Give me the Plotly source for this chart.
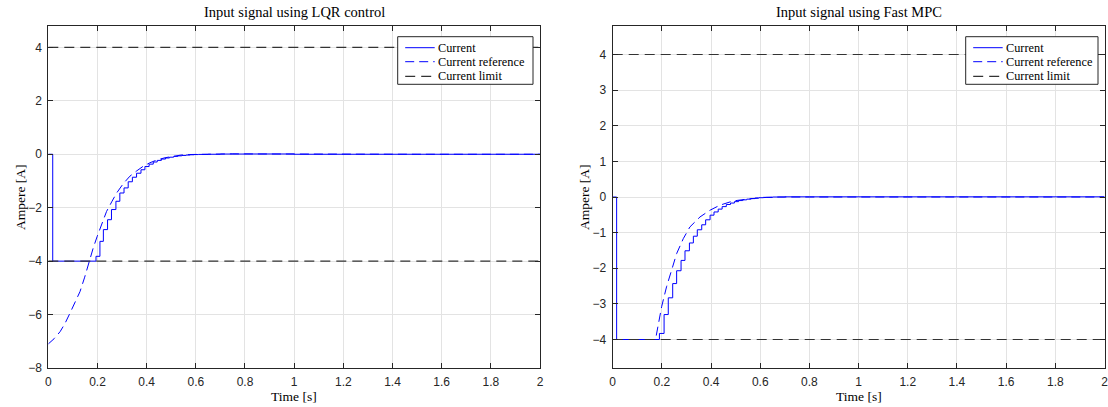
import plotly.graph_objects as go

# ---- LQR control: unsaturated controller output (reference) ----
lqr_ref_t = [0.0, 0.024, 0.048, 0.068, 0.088, 0.108, 0.129, 0.148, 0.167, 0.183,
             0.199, 0.218, 0.237, 0.258, 0.278, 0.305, 0.332, 0.36, 0.386, 0.413,
             0.44, 0.475, 0.508, 0.54, 0.576, 0.62, 0.68, 0.75, 0.85, 1.0, 1.2, 1.5, 2.0]
lqr_ref_v = [-7.1, -6.9, -6.64, -6.33, -5.95, -5.57, -5.14, -4.6, -3.97, -3.5,
             -3.07, -2.6, -2.14, -1.78, -1.45, -1.10, -0.82, -0.62, -0.45, -0.32,
             -0.22, -0.13, -0.07, -0.03, -0.01, 0.0, 0.01, 0.015, 0.01, 0.005, 0.0, 0.0, 0.0]

# ---- LQR control: applied current (sampled, saturated) ----
lqr_cur_t = [0.0, 0.018, 0.194, 0.210, 0.224, 0.241, 0.257, 0.275, 0.291, 0.308,
             0.325, 0.342, 0.359, 0.377, 0.393, 0.41, 0.427, 0.443, 0.46, 0.477,
             0.493, 0.51, 0.527, 0.543, 0.56, 0.577, 0.593, 0.61, 0.65, 0.7, 0.8, 1.0, 2.0]
lqr_cur_v = [0.0, -4.0, -3.82, -3.26, -2.82, -2.45, -2.07, -1.76, -1.45, -1.26,
             -1.03, -0.86, -0.71, -0.58, -0.46, -0.37, -0.29, -0.23, -0.18, -0.14,
             -0.11, -0.08, -0.06, -0.045, -0.03, -0.02, -0.012, -0.006, 0.0, 0.008, 0.01, 0.0, 0.0]

# ---- Fast MPC: controller output (reference) ----
mpc_ref_t = [0.017, 0.17, 0.176, 0.188, 0.199, 0.219, 0.240, 0.260, 0.287, 0.314,
             0.355, 0.396, 0.436, 0.49, 0.558, 0.626, 0.68, 0.8, 1.0, 2.0]
mpc_ref_v = [-4.0, -4.0, -3.93, -3.45, -3.08, -2.52, -2.01, -1.59, -1.17, -0.84,
             -0.56, -0.37, -0.23, -0.11, -0.05, -0.01, 0.0, 0.005, 0.0, 0.0]

# ---- Fast MPC: applied current ----
mpc_cur_t = [0.0, 0.016, 0.190, 0.209, 0.226, 0.244, 0.260, 0.278, 0.294, 0.312,
             0.328, 0.344, 0.362, 0.378, 0.396, 0.412, 0.429, 0.445, 0.462, 0.479,
             0.495, 0.512, 0.529, 0.545, 0.562, 0.579, 0.595, 0.612, 0.65, 0.7, 0.8, 2.0]
mpc_cur_v = [0.0, -4.0, -3.83, -3.30, -2.83, -2.43, -2.07, -1.78, -1.51, -1.29,
             -1.10, -0.92, -0.78, -0.64, -0.51, -0.42, -0.34, -0.27, -0.21, -0.17,
             -0.13, -0.10, -0.08, -0.06, -0.045, -0.03, -0.02, -0.01, 0.0, 0.005, 0.005, 0.0]

limit_t = [0.0, 2.0]
limit_hi = [4.0, 4.0]
limit_lo = [-4.0, -4.0]

titles = ["Input signal using LQR control", "Input signal using Fast MPC"]
legend_labels = ["Current", "Current reference", "Current limit"]
x_ticks = [0, 0.2, 0.4, 0.6, 0.8, 1, 1.2, 1.4, 1.6, 1.8, 2]
x_ticklabels = ["0", "0.2", "0.4", "0.6", "0.8", "1", "1.2", "1.4", "1.6", "1.8", "2"]
lqr_yticks = [-8, -6, -4, -2, 0, 2, 4]
mpc_yticks = [-4, -3, -2, -1, 0, 1, 2, 3, 4]

W, H = 1108, 407
BLUE = "#0000ff"
BLACK = "#262626"
LIMIT = "#333333"
SERIF = "Liberation Serif"
SANS = "Liberation Sans"

CUR_LINE = dict(color=BLUE, width=1)
REF_LINE = dict(color=BLUE, width=1, dash="9px,5px")
LIM_LINE = dict(color=LIMIT, width=1.2, dash="10px,6px")

fig = go.Figure()


def add_panel(xa, ya, t_cur, v_cur, t_ref, v_ref):
    fig.add_trace(go.Scatter(x=t_cur, y=v_cur, mode="lines", line_shape="hv",
                             line=CUR_LINE, name="Current", showlegend=False,
                             xaxis=xa, yaxis=ya))
    fig.add_trace(go.Scatter(x=t_ref, y=v_ref, mode="lines", line=REF_LINE,
                             name="Current reference", showlegend=False,
                             xaxis=xa, yaxis=ya))
    for lim in (limit_hi, limit_lo):
        fig.add_trace(go.Scatter(x=limit_t, y=lim, mode="lines", line=LIM_LINE,
                                 name="Current limit", showlegend=False,
                                 xaxis=xa, yaxis=ya))


add_panel("x", "y", lqr_cur_t, lqr_cur_v, lqr_ref_t, lqr_ref_v)
add_panel("x2", "y2", mpc_cur_t, mpc_cur_v, mpc_ref_t, mpc_ref_v)

# axis boxes in pixels
left_px = (48.3, 540.0)
right_px = (612.7, 1104.5)
top_px, bot_px = 26.0, 368.0
ydom = [(H - bot_px) / H, (H - top_px) / H]

axis_common = dict(showline=True, linecolor=BLACK, linewidth=1, mirror="allticks",
                   ticks="inside", ticklen=5, tickcolor=BLACK, automargin=False,
                   showgrid=True, gridcolor="#e3e3e3", gridwidth=1, zeroline=False,
                   ticklabelstandoff=3, ticklabeloverflow="allow",
                   tickfont=dict(family=SANS, size=12, color=BLACK))

fig.update_layout(
    width=W, height=H,
    margin=dict(l=0, r=0, t=0, b=0, autoexpand=False),
    paper_bgcolor="white", plot_bgcolor="white",
    showlegend=False,
    xaxis=dict(domain=[left_px[0] / W, left_px[1] / W], range=[0, 2],
               tickvals=x_ticks, ticktext=x_ticklabels, anchor="y", **axis_common),
    yaxis=dict(domain=ydom, range=[-8, 4.8], tickvals=lqr_yticks, anchor="x", **axis_common),
    xaxis2=dict(domain=[right_px[0] / W, right_px[1] / W], range=[0, 2],
                tickvals=x_ticks, ticktext=x_ticklabels, anchor="y2", **axis_common),
    yaxis2=dict(domain=ydom, range=[-4.8, 4.8], tickvals=mpc_yticks, anchor="x2", **axis_common),
)


def px_x(v):
    return v / W


def px_y(v):
    return 1 - v / H


shapes = []
annotations = []

# legend boxes (left edge, right edge) in pixels; rows share the same vertical layout
legend_boxes = [(397.7, 533.0), (965.7, 1098.0)]
legend_top, legend_bot = 36.7, 84.3
row_y = [47.7, 61.7, 76.3]
sample_lines = [CUR_LINE, REF_LINE, LIM_LINE]
for bx0, bx1 in legend_boxes:
    shapes.append(dict(type="rect", xref="paper", yref="paper",
                       x0=px_x(bx0), x1=px_x(bx1), y0=px_y(legend_bot), y1=px_y(legend_top),
                       line=dict(color=BLACK, width=1), fillcolor="white", layer="above"))
    for ry, label, ln in zip(row_y, legend_labels, sample_lines):
        shapes.append(dict(type="line", xref="paper", yref="paper",
                           x0=px_x(bx0 + 7.5), x1=px_x(bx0 + 37), y0=px_y(ry), y1=px_y(ry),
                           line=ln, layer="above"))
        annotations.append(dict(text=label, x=px_x(bx0 + 38.5), y=px_y(ry),
                                xref="paper", yref="paper", showarrow=False,
                                xanchor="left", yanchor="middle",
                                font=dict(family=SERIF, size=12.3, color="black")))

for (x0, x1), title in zip([left_px, right_px], titles):
    cx = (x0 + x1) / 2 / W
    annotations.append(dict(text=title, x=cx, y=px_y(12), xref="paper", yref="paper",
                            showarrow=False, xanchor="center", yanchor="middle",
                            font=dict(family=SERIF, size=14.5, color="black")))
    annotations.append(dict(text="Time [s]", x=cx, y=px_y(396), xref="paper", yref="paper",
                            showarrow=False, xanchor="center", yanchor="middle",
                            font=dict(family=SERIF, size=13.5, color="black")))
for ylx in [20, 584]:
    annotations.append(dict(text="Ampere [A]", x=px_x(ylx), y=px_y(197),
                            xref="paper", yref="paper", textangle=-90,
                            showarrow=False, xanchor="center", yanchor="middle",
                            font=dict(family=SERIF, size=13.5, color="black")))

fig.update_layout(shapes=shapes, annotations=annotations)

fig.write_html("out.html")
